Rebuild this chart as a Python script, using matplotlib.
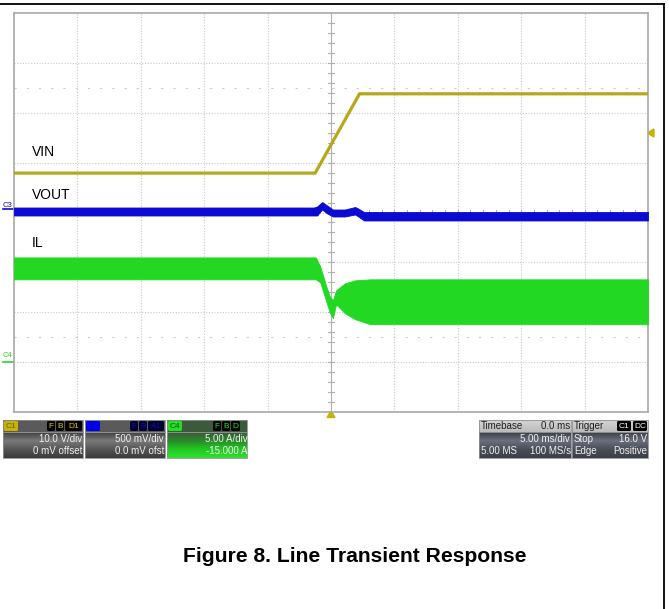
import numpy as np
import matplotlib
matplotlib.use('Agg')
import matplotlib.pyplot as plt
from matplotlib.patches import Rectangle, FancyBboxPatch, Polygon

plt.rcParams['font.family'] = ['Liberation Sans', 'DejaVu Sans']

W, H = 669, 609

# time axis in ms, 5 ms/div, trigger in the middle
VIN_T = [-25, -1.25, 2.25, 25]
VIN_V = [7.9, 7.9, 23.8, 23.8]          # V

VOUT_T = [-25, -1.35, -1.1, -0.7, -0.3, 0.15, 1.1, 1.9, 2.15, 2.6, 25]
VOUT_HI = [20, 20, 30, 75, 40, 0, 0, 25, 10, -25, -25]      # mV
VOUT_LO = [-60, -60, -60, 0, -40, -70, -70, -50, -70, -110, -110]

IL_T = [-25, -1.2, -0.85, -0.4, -0.1, 0.15, 0.4, 1.1, 1.9, 3.1, 25]
IL_HI = [10.5, 10.5, 9.6, 7.7, 6.6, 6.2, 7.2, 7.9, 8.2, 8.3, 8.3]   # A
IL_LO = [8.3, 8.3, 8.0, 6.2, 5.0, 4.4, 5.8, 4.9, 4.3, 3.8, 3.8]

VIN_SCALE, VIN_REF = 10.0, 4.0      # V/div, ground level in div
VOUT_SCALE, VOUT_REF = 500.0, 4.06  # mV/div
IL_SCALE, IL_REF = 5.0, 1.0         # A/div

YELLOW = '#b5a81c'
BLUE = '#0a0ad2'
GREEN = '#22d822'


def div(vals, scale, ref):
    return [ref + v / scale for v in vals]


fig = plt.figure(figsize=(W / 100, H / 100), dpi=100)
fig.patch.set_facecolor('white')

# overlay in pixel coordinates for frame, markers and info boxes
ov = fig.add_axes([0, 0, 1, 1])
ov.set_xlim(0, W)
ov.set_ylim(H, 0)
ov.axis('off')

# scope screen
ax = fig.add_axes([14 / W, 1 - 412 / H, 634 / W, 399 / H])
ax.set_xlim(-25, 25)
ax.set_ylim(0, 8)
ax.set_xticks([])
ax.set_yticks([])
for s in ax.spines.values():
    s.set_color('#a8a8a8')
    s.set_linewidth(1.2)

for x in np.arange(-20, 25, 5):
    if x == 0:
        continue
    ax.axvline(x, color='#c8c8c8', lw=0.8, ls=(0, (1, 1.5)), zorder=1)
for y in range(1, 8):
    if y == 4:
        continue
    ax.axhline(y, color='#c8c8c8', lw=0.8, ls=(0, (1, 1.5)), zorder=1)
for y in (1.5, 6.5):
    ax.axhline(y, color='#cccccc', lw=0.8, ls=(0, (2, 9)), zorder=1)
ax.axvline(0, color='#b0b0b0', lw=0.8, zorder=1)
ax.axhline(4, color='#b8b8b8', lw=0.8, ls=(0, (1, 1.5)), zorder=1)
for y in np.arange(0.2, 8, 0.2):
    ax.plot([-0.22, 0.22], [y, y], color='#b0b0b0', lw=0.8, zorder=1)
for x in np.arange(-24, 25, 1):
    ax.plot([x, x], [3.95, 4.05], color='#b0b0b0', lw=0.8, zorder=1)

# traces
ax.fill_between(IL_T, div(IL_LO, IL_SCALE, IL_REF), div(IL_HI, IL_SCALE, IL_REF),
                color=GREEN, lw=0.6, edgecolor=GREEN, zorder=3)
ax.fill_between(VOUT_T, div(VOUT_LO, VOUT_SCALE, VOUT_REF), div(VOUT_HI, VOUT_SCALE, VOUT_REF),
                color=BLUE, lw=0.6, edgecolor=BLUE, zorder=4)
ax.plot(VIN_T, div(VIN_V, VIN_SCALE, VIN_REF), color=YELLOW, lw=2.3, zorder=5,
        solid_joinstyle='miter')

ax.text(-23.6, 5.21, 'VIN', fontsize=10, va='center', ha='left')
ax.text(-23.6, 4.35, 'VOUT', fontsize=10, va='center', ha='left')
ax.text(-23.6, 3.39, 'IL', fontsize=10, va='center', ha='left')

# channel markers
ov.text(3, 205.5, 'C3', color=BLUE, fontsize=5.5, va='center', ha='left')
ov.plot([3, 13], [209, 209], color=BLUE, lw=1.2)
ov.text(3, 355.5, 'C4', color=GREEN, fontsize=5.5, va='center', ha='left')
ov.plot([3, 13], [361.5, 361.5], color=GREEN, lw=1.2)
ov.add_patch(Polygon([[647, 133], [654, 129], [654, 137]], color='#c8b400'))
ov.add_patch(Polygon([[331, 410.5], [327, 417.5], [335, 417.5]], color='#c8b400'))

# outer frame
ov.plot([0, 663.5], [3.5, 3.5], color='black', lw=1.3)
ov.plot([663.5, 663.5], [3.5, H], color='black', lw=1.3)


def gradient(x0, x1, y0, y1, colors):
    cm = matplotlib.colors.LinearSegmentedColormap.from_list('g', colors)
    g = np.linspace(0, 1, 64).reshape(-1, 1)
    ov.imshow(g, cmap=cm, extent=(x0, x1, y1, y0), aspect='auto', zorder=2,
              interpolation='bilinear')
    r = Rectangle((x0, y0), x1 - x0, y1 - y0, fill=False, ec='#909090', lw=0.6, zorder=3)
    ov.add_patch(r)
    return r


def tag(x0, x1, y0, y1, fc, label, tc):
    ov.add_patch(FancyBboxPatch((x0, y0), x1 - x0, y1 - y0,
                                boxstyle='round,pad=0,rounding_size=1.5',
                                fc=fc, ec='none', zorder=4))
    ov.text((x0 + x1) / 2, (y0 + y1) / 2 + 0.5, label, color=tc, fontsize=6,
            ha='center', va='center', zorder=5)


def txt(x, y, s, ha='right', color='#f0f0f0', clip=None):
    t = ov.text(x, y, s, fontsize=7, color=color, ha=ha, va='center', zorder=5)
    if clip is not None:
        t.set_clip_path(clip)


# channel boxes
gradient(3, 83, 420, 432, ['#5a5a5a', '#5a5a5a'])
gradient(3, 83, 432, 458, ['#404040', '#7a7a7a', '#555555', '#3a3a3a'])
tag(4, 18, 421, 431, '#c8b400', 'C1', '#6a5e00')
tag(47, 55, 421, 431, 'black', 'F', '#d8c800')
tag(56, 64, 421, 431, 'black', 'B', '#d8c800')
tag(65, 82, 421, 431, 'black', 'D1', '#d8c800')
txt(82, 439, '10.0 V/div')
txt(82, 451, '0 mV offset')

gradient(85, 165, 420, 432, ['#5a5a5a', '#5a5a5a'])
gradient(85, 165, 432, 458, ['#404040', '#7a7a7a', '#555555', '#3a3a3a'])
tag(86, 100, 421, 431, '#0000e8', '', 'black')
tag(130, 138, 421, 431, '#000030', 'F', '#1010a0')
tag(139, 147, 421, 431, '#000030', 'B', '#1010a0')
tag(148, 164, 421, 431, '#000030', 'A1', '#1010a0')
txt(164, 439, '500 mV/div')
txt(164, 451, '0.0 mV ofst')

gradient(167, 247, 420, 432, ['#3c5a3c', '#3c5a3c'])
clip = gradient(167, 247, 432, 458, ['#3a5a3a', '#2a8a2a', '#22c822', '#30e030'])
tag(168, 182, 421, 431, '#22e022', 'C4', '#0a600a')
tag(213, 221, 421, 431, 'black', 'F', '#22e022')
tag(222, 230, 421, 431, 'black', 'B', '#22e022')
tag(231, 240, 421, 431, 'black', 'D', '#22e022')
txt(248, 439, '5.00 A/div', clip=clip)
txt(248, 451, '-15.000 A', clip=clip)

# timebase / trigger boxes
gradient(479, 571, 420, 432, ['#d4d4d4', '#bcbcbc'])
clip = gradient(479, 571, 432, 458, ['#3a3e48', '#6a707c', '#4a4e58', '#3a3e48'])
txt(481, 426, 'Timebase', ha='left', color='#202020')
txt(570, 426, '0.0 ms', color='#202020')
txt(570, 439, '5.00 ms/div', clip=clip)
txt(481, 451, '5.00 MS', ha='left')
txt(571, 451, '100 MS/s', clip=clip)

gradient(572, 648, 420, 432, ['#d4d4d4', '#bcbcbc'])
gradient(572, 648, 432, 458, ['#3a3e48', '#6a707c', '#4a4e58', '#3a3e48'])
txt(574, 426, 'Trigger', ha='left', color='#202020')
tag(617, 631, 421, 431, 'black', 'C1', 'white')
tag(633, 647, 421, 431, 'black', 'DC', 'white')
txt(647, 439, '16.0 V')
txt(574, 439, 'Stop', ha='left')
txt(574, 451, 'Edge', ha='left')
txt(647, 451, 'Positive')

fig.text(355 / W, 1 - 557 / H, 'Figure 8. Line Transient Response', fontsize=15.2,
         fontweight='bold', ha='center', va='center')

fig.savefig('out.png', dpi=100)
